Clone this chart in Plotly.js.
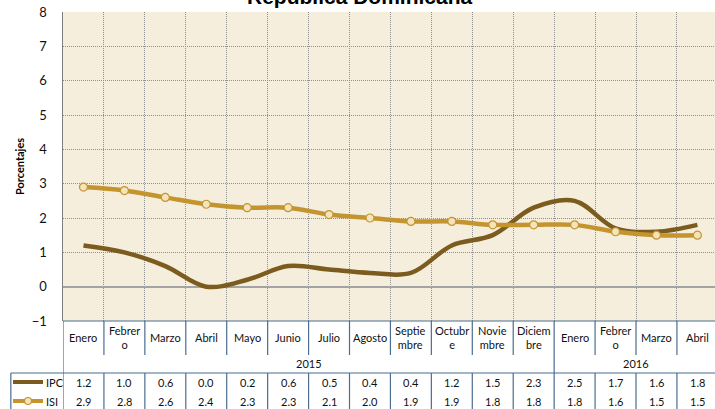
<!DOCTYPE html>
<html>
<head>
<meta charset="utf-8">
<script src="https://cdn.plot.ly/plotly-3.0.1.min.js"></script>
<style>html,body{margin:0;padding:0;background:#fff;}#chart{width:715px;height:409px;}</style>
</head>
<body>
<div id="chart"></div>
<script>
// ---- data ----
const categories = ["Enero","Febrero","Marzo","Abril","Mayo","Junio","Julio","Agosto","Septiembre","Octubre","Noviembre","Diciembre","Enero ","Febrero ","Marzo ","Abril "];
const categoryLabels = ["Enero","Febrer<br>o","Marzo","Abril","Mayo","Junio","Julio","Agosto","Septie<br>mbre","Octubr<br>e","Novie<br>mbre","Diciem<br>bre","Enero","Febrer<br>o","Marzo","Abril"];
const years = ["2015","2016"];
const yearSpans = [[0,11],[12,15]];
const ipc = [1.2,1.0,0.6,0.0,0.2,0.6,0.5,0.4,0.4,1.2,1.5,2.3,2.5,1.7,1.6,1.8];
const isi = [2.9,2.8,2.6,2.4,2.3,2.3,2.1,2.0,1.9,1.9,1.8,1.8,1.8,1.6,1.5,1.5];
const seriesNames = ["IPC","ISI"];

// ---- styles ----
const cIPC = "#7b5c1e", cISI = "#c4942f", cFill = "#f3e4bb";
const tableBlue = "#4a6d91";
const H = 409, T = 12, B = 88, plotH = H - T - B;
const py = Y => (H - B - Y) / plotH; // pixel -> paper
const font = "Lato, 'Liberation Sans', Arial, sans-serif";

const traces = [
  {x: categories, y: ipc, name: seriesNames[0], type: "scatter", mode: "lines",
   line: {color: cIPC, width: 4.5, shape: "spline", smoothing: 1}, showlegend: false, cliponaxis: false},
  {x: categories, y: isi, name: seriesNames[1], type: "scatter", mode: "lines+markers",
   line: {color: cISI, width: 4.5, shape: "spline", smoothing: 1},
   marker: {size: 8, color: cFill, line: {color: cISI, width: 1.2}}, showlegend: false, cliponaxis: false}
];

const shapes = [], annotations = [];
const n = categories.length;
const xEnd = 15.43;
// horizontal table lines
shapes.push({type:"line", xref:"x", yref:"paper", x0:-0.5, x1:xEnd, y0:0, y1:0, line:{color:tableBlue,width:1.2}});
shapes.push({type:"line", xref:"paper", yref:"paper", x0:-0.08, x1:1, y0:py(373), y1:py(373), line:{color:tableBlue,width:1.2}});
// legend cell left border
shapes.push({type:"line", xref:"paper", yref:"paper", x0:-0.08, x1:-0.08, y0:py(373), y1:py(412), line:{color:tableBlue,width:1.2}});
// vertical separators
for (let k = 0; k <= n; k++) {
  const xb = k - 0.5;
  if (k === 0 || k === 12) {
    shapes.push({type:"line", xref:"x", yref:"paper", x0:xb, x1:xb, y0:0, y1:py(412), line:{color:tableBlue,width:1.2}});
  } else if (k < n) {
    shapes.push({type:"line", xref:"x", yref:"paper", x0:xb, x1:xb, y0:0, y1:py(355), line:{color:tableBlue,width:1.2}});
    shapes.push({type:"line", xref:"x", yref:"paper", x0:xb, x1:xb, y0:py(373), y1:py(412), line:{color:tableBlue,width:1.2}});
  }
}
// category labels
categoryLabels.forEach((lab, i) => {
  annotations.push({xref:"x", yref:"paper", x:i, y:py(338), text:lab, showarrow:false,
    font:{family:font, size:11, color:"#111"}, xanchor:"center", yanchor:"middle"});
});
// year labels
years.forEach((yr, j) => {
  annotations.push({xref:"x", yref:"paper", x:(yearSpans[j][0]+yearSpans[j][1])/2, y:py(363), text:yr, showarrow:false,
    font:{family:font, size:11, color:"#111"}, xanchor:"center", yanchor:"middle"});
});
// values
[ipc, isi].forEach((arr, r) => {
  const yy = r === 0 ? 382 : 401;
  arr.forEach((v, i) => {
    annotations.push({xref:"x", yref:"paper", x:i, y:py(yy), text:v.toFixed(1), showarrow:false,
      font:{family:font, size:11, color:"#111"}, xanchor:"center", yanchor:"middle"});
  });
  annotations.push({xref:"paper", yref:"paper", x:(44-63)/652, y:py(yy), text:seriesNames[r], showarrow:false,
    font:{family:font, size:11, color:"#111"}, xanchor:"left", yanchor:"middle"});
});
// legend keys
const lx0 = (13-63)/652, lx1 = (43-63)/652;
shapes.push({type:"line", xref:"paper", yref:"paper", x0:lx0, x1:lx1, y0:py(382), y1:py(382), line:{color:cIPC,width:4}});
shapes.push({type:"line", xref:"paper", yref:"paper", x0:lx0, x1:lx1, y0:py(401), y1:py(401), line:{color:cISI,width:4}});
shapes.push({type:"circle", xref:"paper", yref:"paper", x0:(24.5-63)/652, x1:(31.5-63)/652, y0:py(404.5), y1:py(397.5),
  fillcolor:cFill, line:{color:cISI,width:1.2}});
// title
annotations.push({xref:"paper", yref:"paper", x:(360-63)/652, y:py(4), text:"<b>República Dominicana</b>", showarrow:false,
  font:{family:"'Liberation Sans', Arial, sans-serif", size:21, color:"#000"}, xanchor:"center", yanchor:"bottom", yshift:-6});

const layout = {
  width: 715, height: 409,
  margin: {l: 63, r: 0, t: T, b: B, pad: 0},
  paper_bgcolor: "#ffffff",
  plot_bgcolor: "#f5eedd",
  showlegend: false,
  xaxis: {type:"category", range:[-0.5, xEnd], tickson:"boundaries", showticklabels:false, ticks:"",
    showgrid:true, gridcolor:"#8f8f8f", griddash:"1px,1px", gridwidth:1, showline:false, zeroline:false, fixedrange:true},
  yaxis: {range:[-1, 8], dtick:1, tick0:0, showgrid:true, gridcolor:"#8f8f8f", griddash:"1px,1px", gridwidth:1,
    zeroline:true, zerolinecolor:"#a3a3a3", zerolinewidth:2,
    showline:true, linecolor:"#7f7f7f", linewidth:1.5, ticks:"", ticklabelstandoff:12,
    tickfont:{family:font, size:13, color:"#111"},
    title:{text:"<b>Porcentajes</b>", font:{family:font, size:11, color:"#000"}, standoff:5},
    automargin:false, fixedrange:true},
  shapes: shapes,
  annotations: annotations
};

Plotly.newPlot("chart", traces, layout, {staticPlot:true, displayModeBar:false});
</script>
</body>
</html>
